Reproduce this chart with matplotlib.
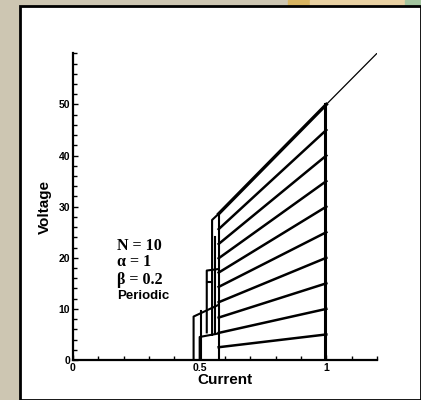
import matplotlib.pyplot as plt
from matplotlib.patches import Rectangle
from matplotlib.ticker import MultipleLocator

# Branch lines: voltage at the left end (I = 0.575) and right end (I = 1)
branch_left_i = 0.575
branch_right_i = 1.0
branch_left_v = [2.5, 5.3, 8.3, 11.3, 14.3, 17.1, 19.9, 22.7, 25.6, 28.6]
branch_right_v = [5, 10, 15, 20, 25, 30, 35, 40, 45, 50]

# Ohmic line above the critical current
ohmic_i = [1.0, 1.2]
ohmic_v = [50, 60]

# Switching line at I = 1
switch_i = [0.995, 0.995]
switch_v = [0, 50]

# Retrapping paths at the left side
jump_i = [
    [0.575, 0.549, 0.549],
    [0.575, 0.528, 0.528],
    [0.549, 0.528],
    [0.575, 0.476, 0.476],
    [0.575, 0.500, 0.500],
    [0.505, 0.505],
    [0.562, 0.562],
    [0.575, 0.575],
]
jump_v = [
    [28.6, 27.4, 4.9],
    [17.8, 17.5, 5.4],
    [15.3, 15.3],
    [10.8, 8.5, 0],
    [5.2, 4.5, 0],
    [9.6, 0],
    [24.0, 5.0],
    [0, 28.6],
]

params = ['N = 10', '\u03b1 = 1', '\u03b2 = 0.2']


def main():
    W, H = 421, 400
    fig = plt.figure(figsize=(W / 100, H / 100), dpi=100)
    fig.patch.set_facecolor('#cdc6b2')

    # Page decoration
    fig.patches.append(Rectangle((288 / W, 1 - 6 / H), 22 / W, 6 / H,
                                 transform=fig.transFigure, color='#d8b461', zorder=-2))
    fig.patches.append(Rectangle((310 / W, 1 - 6 / H), 95 / W, 6 / H,
                                 transform=fig.transFigure, color='#e9d1a3', zorder=-2))
    fig.patches.append(Rectangle((405 / W, 1 - 6 / H), 16 / W, 6 / H,
                                 transform=fig.transFigure, color='#a3c59f', zorder=-2))
    fig.patches.append(Rectangle((20 / W, 0), 1 - 20 / W, 1 - 6 / H,
                                 transform=fig.transFigure, facecolor='white',
                                 edgecolor='black', linewidth=2, zorder=-1))

    ax = fig.add_axes([73 / W, 40 / H, 304 / W, 306.7 / H])
    ax.set_facecolor('none')
    ax.set_zorder(1)

    # Plot
    for vl, vr in zip(branch_left_v, branch_right_v):
        lw = 2.4 if vr == 50 else 1.8
        ax.plot([branch_left_i, branch_right_i], [vl, vr], color='black', lw=lw)
    ax.plot(ohmic_i, ohmic_v, color='black', lw=0.9)
    ax.plot(switch_i, switch_v, color='black', lw=2.2)
    for ji, jv in zip(jump_i, jump_v):
        ax.plot(ji, jv, color='black', lw=1.5)

    # Axes
    ax.set_xlim(0, 1.2)
    ax.set_ylim(0, 60)
    for s in ['top', 'right']:
        ax.spines[s].set_visible(False)
    for s in ['left', 'bottom']:
        ax.spines[s].set_linewidth(1.6)

    ax.xaxis.set_minor_locator(MultipleLocator(0.1))
    ax.yaxis.set_minor_locator(MultipleLocator(2))
    ax.set_xticks([0, 0.5, 1])
    ax.set_xticklabels(['0', '0.5', '1'])
    ax.set_yticks([0, 10, 20, 30, 40, 50])
    ax.set_yticklabels(['0', '10', '20', '30', '40', '50'])
    ax.tick_params(which='both', direction='in', width=1, pad=2)
    ax.tick_params(which='major', length=3.6)
    ax.tick_params(which='minor', length=2.8)
    for lab in ax.get_xticklabels() + ax.get_yticklabels():
        lab.set_fontfamily('Liberation Sans')
        lab.set_fontweight('bold')
        lab.set_fontsize(7.5)

    ax.set_xlabel('Current', fontfamily='Liberation Sans', fontweight='bold',
                  fontsize=11, labelpad=0)
    ax.set_ylabel('Voltage', fontfamily='Liberation Sans', fontweight='bold',
                  fontsize=11, labelpad=5)

    # Parameter text
    ys = [245.5, 262.5, 280]
    for t, y in zip(params, ys):
        fig.text(117 / W, 1 - y / H, t, fontfamily=['Liberation Serif', 'DejaVu Serif'],
                 fontweight='bold', fontsize=11.5, va='center', ha='left')
    fig.text(117 / W, 1 - 296 / H, 'Periodic', fontfamily='Liberation Sans',
             fontweight='bold', fontsize=9.5, va='center', ha='left')

    fig.savefig('out.png', dpi=100, facecolor=fig.get_facecolor())


if __name__ == '__main__':
    main()
